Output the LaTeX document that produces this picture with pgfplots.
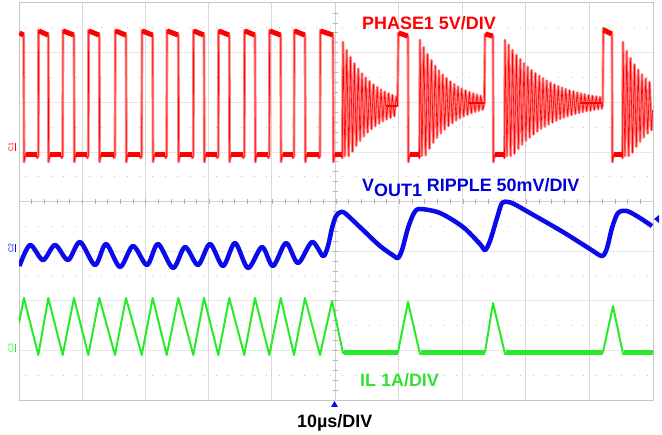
\documentclass[border=0pt]{standalone}
\usepackage{pgfplots}
\usepackage{pgfplotstable}
\pgfplotsset{compat=1.18}
\usepackage{fontspec}
\setmainfont{Liberation Sans}
\definecolor{tr}{RGB}{255,0,0}
\definecolor{trl}{RGB}{255,130,130}
\definecolor{tb}{RGB}{10,10,235}
\definecolor{tg}{RGB}{40,235,40}
\definecolor{txtb}{RGB}{0,0,220}
\definecolor{txtg}{RGB}{50,225,50}
% PHASE1 trace, screen pixel coordinates (x, y downwards)
\pgfplotstableread[row sep=\\]{
x y\\
19.5 33\\ 23.7 35\\ 24 162\\ 25.5 154\\ 36 154\\ 37.3 158\\ 38.3 156\\
38.6 30\\ 48.3 35\\ 48.6 162\\ 50 154\\ 60.5 154\\ 61.7 158\\ 62.7 156\\
63 30\\ 74 35\\ 74.3 162\\ 75.8 154\\ 86 154\\ 87.3 158\\ 88.3 156\\
88.6 30\\ 99.3 35\\ 99.6 162\\ 101 154\\ 113 154\\ 114 158\\ 115 156\\
115.3 30\\ 126 35\\ 126.3 162\\ 127.8 154\\ 139.5 154\\ 140.7 158\\ 141.7 156\\
142 30\\ 152.7 35\\ 153 162\\ 154.5 154\\ 164.5 154\\ 165.7 158\\ 166.7 156\\
167 30\\ 178.3 35\\ 178.6 162\\ 180 154\\ 191 154\\ 192.3 158\\ 193.3 156\\
193.6 30\\ 204 35\\ 204.3 162\\ 205.8 154\\ 216 154\\ 217.3 158\\ 218.3 156\\
218.6 30\\ 229.3 35\\ 229.6 162\\ 231 154\\ 242 154\\ 243.3 158\\ 244.3 156\\
244.6 30\\ 255 35\\ 255.3 162\\ 256.8 154\\ 267 154\\ 268.3 158\\ 269.3 156\\
269.6 30\\ 280.7 35\\ 281 162\\ 282.5 154\\ 292 154\\ 293 158\\ 294 156\\
294.3 30\\ 305 35\\ 305.3 162\\ 306.8 154\\ 318 154\\ 319 158\\ 320 156\\
320.3 30\\ 333 35\\ 333.3 162\\ 334.8 154\\ 341 154\\ 342.3 158\\
343 42\\ 344.9 156\\ 346.8 50.1\\ 348.7 156\\ 350.6 57.2\\ 352.5 151.6\\ 354.4 63.4\\ 356.3 145.8\\ 358.2 68.8\\ 360.1 140.8\\
362 73.5\\ 363.9 136.4\\ 365.8 77.6\\ 367.7 132.5\\ 369.6 81.2\\ 371.5 129.1\\ 373.4 84.4\\ 375.3 126.2\\ 377.2 87.1\\ 379.1 123.6\\
381 89.5\\ 382.9 121.4\\ 384.8 91.6\\ 386.7 119.4\\ 388.6 93.4\\ 390.5 117.7\\ 392.4 95\\ 394.3 116.3\\ 396.2 96.4\\ 397.6 106\\
398.3 33\\ 408 36\\ 408.3 162\\ 409.8 154\\ 418.5 154\\ 419.5 158\\
420 40\\ 421.9 156\\ 423.8 47.1\\ 425.7 155.2\\ 427.6 54.2\\ 429.5 148.6\\ 431.4 60.4\\ 433.3 142.8\\ 435.2 65.8\\ 437.1 137.8\\
439 70.5\\ 440.9 133.4\\ 442.8 74.6\\ 444.7 129.5\\ 446.6 78.2\\ 448.5 126.1\\ 450.4 81.4\\ 452.3 123.2\\ 454.2 84.1\\ 456.1 120.6\\
458 86.5\\ 459.9 118.4\\ 461.8 88.6\\ 463.7 116.4\\ 465.6 90.4\\ 467.5 114.7\\ 469.4 92\\ 471.3 113.3\\ 473.2 93.4\\ 475.1 112\\
477 94.6\\ 478.9 110.8\\ 480.8 95.7\\ 482.7 109.8\\ 484.4 103\\
485 34\\ 493 36\\ 493.3 162\\ 494.8 154\\ 503.5 154\\ 504.5 158\\
505 40\\ 506.9 156\\ 508.8 44.8\\ 510.7 156\\ 512.6 50.1\\ 514.5 153.5\\ 516.4 54.9\\ 518.3 148.9\\ 520.2 59.2\\ 522.1 144.7\\
524 63.2\\ 525.9 140.9\\ 527.8 66.8\\ 529.7 137.5\\ 531.6 70.1\\ 533.5 134.4\\ 535.4 73.1\\ 537.3 131.5\\ 539.2 75.8\\ 541.1 128.9\\
543 78.3\\ 544.9 126.6\\ 546.8 80.5\\ 548.7 124.4\\ 550.6 82.6\\ 552.5 122.5\\ 554.4 84.4\\ 556.3 120.7\\ 558.2 86.1\\ 560.1 119.1\\
562 87.6\\ 563.9 117.7\\ 565.8 89\\ 567.7 116.3\\ 569.6 90.3\\ 571.5 115.1\\ 573.4 91.4\\ 575.3 114\\ 577.2 92.5\\ 579.1 113\\
581 93.4\\ 582.9 112.1\\ 584.8 94.3\\ 586.7 111.3\\ 588.6 95.1\\ 590.5 110.6\\ 592.4 95.8\\ 594.3 109.9\\ 596.2 96.4\\ 598.1 109.3\\
600 97\\ 601.9 108.7\\ 602.8 103\\
603.3 28\\ 612 34\\ 612.3 162\\ 613.8 154\\ 621.5 154\\ 622.5 158\\
623 42\\ 624.9 156\\ 626.8 51.1\\ 628.7 156\\ 630.6 58.2\\ 632.5 152.6\\ 634.4 64.4\\ 636.3 146.8\\ 638.2 69.8\\ 640.1 141.8\\
642 74.5\\ 643.9 137.4\\ 645.8 78.6\\ 647.7 133.5\\ 649.6 82.2\\ 651.5 130.1\\ 652.5 110\\
}\phasetrace
\begin{document}
\begin{tikzpicture}
\path[use as bounding box] (-19bp,-35bp) rectangle (643bp,400bp);
% grid (pixel coordinates of the screenshot)
\begin{scope}[x=1bp,y=-1bp,shift={(-19bp,400bp)}]
 \foreach \yy in {52.6,102.3,151.9,251.1,300.8,350.4}
   \draw[gray!18, line width=0.6bp] (19,\yy) -- (653,\yy);
 \foreach \yy in {27.8,77.5,127.1,176.7,226.3,275.9,325.6,375.2}
   \draw[gray!45, line width=1bp, dash pattern=on 1bp off 11.68bp] (25.3,\yy) -- (653,\yy);
 \foreach \xx in {82.2,145.4,208.6,271.8,398.6,462.2,525.8,589.4}
   \draw[gray!30, line width=0.8bp] (\xx,3) -- (\xx,400);
 \draw[gray!35, line width=0.8bp] (19,201.5) -- (653,201.5);
 \draw[gray!35, line width=0.8bp] (335,3) -- (335,400);
 \foreach \k in {1,...,49}
   \draw[gray!60, line width=0.6bp] ({19+12.68*\k},199) -- ({19+12.68*\k},204);
 \foreach \k in {1,...,39}
   \draw[gray!60, line width=0.6bp] (332.5,{3+9.925*\k}) -- (337.5,{3+9.925*\k});
\end{scope}
\begin{axis}[
  scale only axis, width=634bp, height=397bp,
  xmin=19, xmax=653, ymin=3, ymax=400, y dir=reverse,
  axis line style={draw=gray!45, line width=1bp},
  xtick=\empty, ytick=\empty,
  unbounded coords=jump,
]
% PHASE1: wide pale persistence, then the sharp trace on top
\addplot[trl, line width=2.7bp, line join=round] table {\phasetrace};
\addplot[tr, line width=0.6bp, line join=round] table {\phasetrace};
% PHASE1 high plateaus
\addplot[tr, line width=5bp] coordinates {
(19.5,33)(23.5,35)(23.5,nan)
(39,31)(48,35)(48,nan)
(63.4,31)(73.7,35)(73.7,nan)
(89,31)(99,35)(99,nan)
(115.7,31)(125.7,35)(125.7,nan)
(142.4,31)(152.4,35)(152.4,nan)
(167.4,31)(178,35)(178,nan)
(194,31)(203.7,35)(203.7,nan)
(219,31)(229,35)(229,nan)
(245,31)(254.7,35)(254.7,nan)
(270,31)(280.4,35)(280.4,nan)
(294.7,31)(304.7,35)(304.7,nan)
(320.7,31)(332.7,35)(332.7,nan)
(398.7,33)(407.7,36)(407.7,nan)
(485.4,34)(492.7,36)(492.7,nan)
(603.7,30)(611.7,34)
};
% PHASE1 low plateaus
\addplot[tr, line width=5bp] coordinates {
(25.5,154.5)(36.5,154.5)(36.5,nan)
(50,154.5)(61,154.5)(61,nan)
(75.8,154.5)(86.8,154.5)(86.8,nan)
(101,154.5)(113.5,154.5)(113.5,nan)
(127.8,154.5)(140,154.5)(140,nan)
(154.5,154.5)(165,154.5)(165,nan)
(180,154.5)(191.8,154.5)(191.8,nan)
(205.8,154.5)(216.8,154.5)(216.8,nan)
(231,154.5)(242.8,154.5)(242.8,nan)
(256.8,154.5)(267.8,154.5)(267.8,nan)
(282.5,154.5)(292.5,154.5)(292.5,nan)
(306.8,154.5)(318.5,154.5)(318.5,nan)
(334.8,154.5)(341.5,154.5)(341.5,nan)
(409.8,154.5)(418.8,154.5)(418.8,nan)
(494.8,154.5)(503.8,154.5)(503.8,nan)
(613.8,154.5)(621.8,154.5)
};
% settled tails of the ringing
\addplot[tr, line width=2bp] coordinates {
(386,106)(397,106)(397,nan)
(468,103)(484,103)(484,nan)
(580,103)(602,103)
};
% VOUT1 ripple
\addplot[tb, line width=4.5bp, smooth, line join=round] coordinates {
(19.5,266)(30,245)(43,260)(55,245)(68,260)(80,242)(95,265)(106,244)(120,267)(133,246)(147,265)(158,244)(173,268)(185,247)(198,265)(210,244)(223,266)(235,243)(248,268)(262,247)(273,266)(286,243)(298,263)(312,242)(323,256)(328,246)(332,228)(336,216)(341,212)(346,214)(363,230)(380,246)(394,256)(398,258)(402,250)(408,228)(414,213)(420,209)(440,213)(463,227)(480,244)(485,250)(490,241)(497,218)(502,203)(508,202)(514,204)(530,213)(563,232)(590,249)(602,256)(607,248)(612,228)(618,213)(627,211)(640,218)(652,226)
};
% IL
\addplot[tg, line width=2bp, line join=round] coordinates {
(19,323)(24,298)(38.3,355)(48.3,298)(62.7,355)(74,298)(88.3,355)(99.3,298)(115,355)(126,298)(141.7,355)(152.7,298)(166.7,355)(178.3,298)(193.3,355)(204,298)(218.3,355)(229.3,298)(244.3,355)(255,298)(269.3,355)(280.7,298)(294,355)(305,298)(320,355)(332,301)(343,353)(398,352)(408,302)(420,354)(485,352)(493,303)(505,354)(603,352)(613,306)(623,354)(652,352)
};
\addplot[tg, line width=5bp] coordinates {
(343.5,352.5)(397.5,352.5)(397.5,nan)
(420.5,352.5)(484.5,352.5)(484.5,nan)
(505.5,352.5)(602.5,352.5)(602.5,nan)
(623.5,352.5)(652.5,352.5)
};
\end{axis}
% labels and markers
\begin{scope}[x=1bp,y=-1bp,shift={(-19bp,400bp)}]
 \node[anchor=base west, inner sep=0, text=tr, font=\bfseries\fontsize{18}{18}\selectfont] at (362,30) {PHASE1 5V/DIV};
 \node[anchor=base west, inner sep=0, text=txtb, font=\bfseries\fontsize{18}{18}\selectfont] at (362,192) {V\raisebox{-4.5bp}{OUT1} RIPPLE 50mV/DIV};
 \node[anchor=base west, inner sep=0, text=txtg, font=\bfseries\fontsize{18}{18}\selectfont] at (360,387) {IL 1A/DIV};
 \node[anchor=base west, inner sep=0, text=black, font=\bfseries\fontsize{18}{18}\selectfont] at (297,428) {10µs/DIV};
 \node[rotate=90, inner sep=0, text=tr, font=\fontsize{7}{7}\selectfont] at (12,147) {\underline{C1}};
 \node[rotate=90, inner sep=0, text=tb, font=\fontsize{7}{7}\selectfont] at (12,248) {\underline{C2}};
 \node[rotate=90, inner sep=0, text=tg, font=\fontsize{7}{7}\selectfont] at (12,348) {\underline{C3}};
 \fill[tb] (331,407) -- (338,407) -- (334.5,401) -- cycle;
 \fill[tb] (654,219) -- (659,215) -- (659,223) -- cycle;
\end{scope}
\end{tikzpicture}
\end{document}
